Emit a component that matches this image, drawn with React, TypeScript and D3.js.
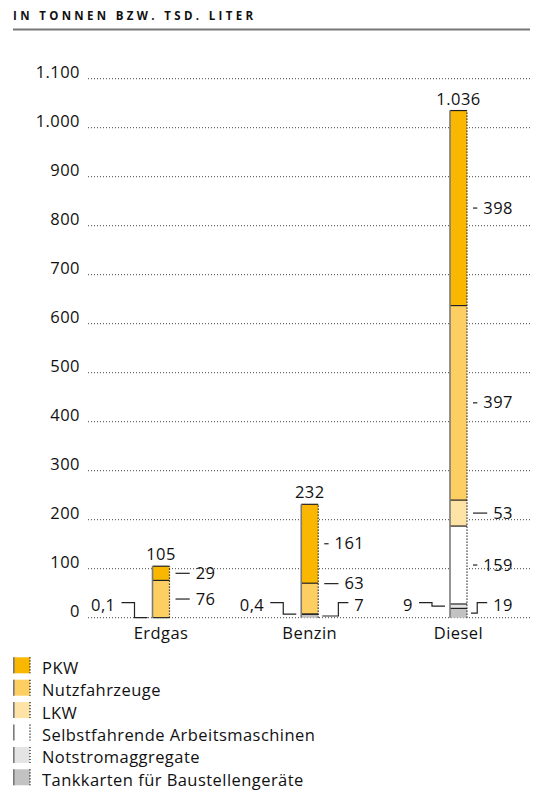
import React from "react";
import * as d3 from "d3";

// Consumption by fuel type, stacked by vehicle / machine group
const categories = ["Erdgas", "Benzin", "Diesel"];
const pkw = [29, 161, 398];
const nutzfahrzeuge = [76, 63, 397];
const lkw = [0, 0, 53];
const selbstfahrende = [0, 0, 159];
const notstrom = [0.1, 0.4, 9];
const tankkarten = [0, 7, 19];
const totals = [105, 232, 1036];
const yTicks = [0, 100, 200, 300, 400, 500, 600, 700, 800, 900, 1000, 1100];

const seriesNames = [
  "PKW",
  "Nutzfahrzeuge",
  "LKW",
  "Selbstfahrende Arbeitsmaschinen",
  "Notstromaggregate",
  "Tankkarten für Baustellengeräte",
];
const seriesColors = ["#f9b700", "#fdcf62", "#fde4a6", "#ffffff", "#e4e4e4", "#c2c2c2"];
// stacking order from the bottom up: Tankkarten, Notstrom, Selbstfahrende, LKW, Nutzfahrzeuge, PKW
const stackOrder = [5, 4, 3, 2, 1, 0];
const seriesValues = [pkw, nutzfahrzeuge, lkw, selbstfahrende, notstrom, tankkarten];

const W = 537;
const H = 794;
const FONT = "'Open Sans', sans-serif";
const FS = 16.5;
const LS = 0.45;

const de = d3.formatLocale({ decimal: ",", thousands: ".", grouping: [3], currency: ["", "€"] });
const fmtInt = de.format(",.0f");
const fmtDec = de.format(",.1f");
const fmt = (v: number) => (v < 1 ? fmtDec(v) : fmtInt(v));

let measureCtx: CanvasRenderingContext2D | null = null;
function textWidth(s: string): number {
  if (!measureCtx) {
    const c = document.createElement("canvas");
    measureCtx = c.getContext("2d");
  }
  if (!measureCtx) return s.length * FS * 0.6;
  measureCtx.font = `${FS}px ${FONT}`;
  return measureCtx.measureText(s).width + LS * s.length;
}

// vertical nudge for a label that would otherwise collide with a callout below it
const labelNudge: Record<string, number> = { "Benzin-1": -15 };

export default function App() {
  const x = d3.scalePoint<string>().domain(categories).range([161, 458.5]);
  const y = d3.scaleLinear().domain([0, 1100]).range([617.7, 78.7]);
  const bw = 17;
  const cx = (c: string) => x(c) ?? 0;

  const stacks = categories.map((c, i) => {
    let base = 0;
    const segs = stackOrder.map((s) => {
      const v = seriesValues[s][i];
      const seg = { series: s, v, y0: base, y1: base + v };
      base += v;
      return seg;
    });
    return { c, i, segs, top: base };
  });

  const txt = { fontSize: FS, letterSpacing: LS, fill: "#111" };

  return (
    <svg
      width={W}
      height={H}
      viewBox={`0 0 ${W} ${H}`}
      style={{ position: "absolute", left: 0, top: 0, background: "#fff" }}
      fontFamily={FONT}
    >
      {/* header */}
      <text x={13} y={19.5} fontSize={11.5} fontWeight="bold" textLength={240} lengthAdjust="spacing" fill="#111">
        IN TONNEN BZW. TSD. LITER
      </text>
      <line x1={13} x2={530} y1={29.5} y2={29.5} stroke="#777" strokeWidth={2} />

      {/* gridlines and y labels */}
      {yTicks.map((t) => (
        <g key={t}>
          <line x1={88} x2={530} y1={y(t)} y2={y(t)} stroke="#444" strokeWidth={1} strokeDasharray="1 2" />
          <text x={80} y={y(t) - 1} textAnchor="end" {...txt}>
            {fmtInt(t)}
          </text>
        </g>
      ))}

      {/* bars */}
      {stacks.map(({ c, i, segs, top }) => {
        const left = cx(c) - bw / 2;
        const right = left + bw;
        const shown = segs.filter((s) => s.v > 0);
        return (
          <g key={c}>
            {shown.map((s) => (
              <rect
                key={s.series}
                x={left}
                y={y(s.y1)}
                width={bw}
                height={y(s.y0) - y(s.y1)}
                fill={seriesColors[s.series]}
              />
            ))}
            {shown.map((s) => (
              <line key={"b" + s.series} x1={left} x2={right} y1={y(s.y1)} y2={y(s.y1)} stroke="#222" strokeWidth={1.2} />
            ))}
            <line x1={left} x2={left} y1={y(0)} y2={y(top)} stroke="#7a7a7a" strokeWidth={1.6} />
            <line x1={right} x2={right} y1={y(0)} y2={y(top)} stroke="#111" strokeWidth={1.2} strokeDasharray="1.2 1.8" />

            {/* total */}
            <text x={cx(c)} y={y(top) - 6} textAnchor="middle" {...txt}>
              {fmtInt(totals[i])}
            </text>

            {/* segment labels */}
            {shown.map((s) => {
              const label = fmt(s.v);
              const segMid = y((s.y0 + s.y1) / 2);
              const mid = segMid + (labelNudge[`${c}-${s.series}`] ?? 0);
              const labelY = y(0) - 15;
              if (s.series === 4) {
                // Notstromaggregate: elbow callout to the left
                return (
                  <g key={"l" + s.series}>
                    <path
                      d={`M${left - 31},${labelY}H${left - 18}V${segMid}H${left - 5}`}
                      fill="none"
                      stroke="#222"
                      strokeWidth={1.2}
                    />
                    <text x={left - 37} y={labelY + 8.5} textAnchor="end" {...txt}>
                      {label}
                    </text>
                  </g>
                );
              }
              const textEnd = right + 46;
              const tStart = textEnd - textWidth(label);
              if (s.series === 5) {
                // Tankkarten: elbow callout to the right
                const lineEnd = tStart - 6;
                return (
                  <g key={"l" + s.series}>
                    <path
                      d={`M${right + 4},${segMid}H${lineEnd - 10}V${labelY}H${lineEnd}`}
                      fill="none"
                      stroke="#222"
                      strokeWidth={1.2}
                    />
                    <text x={textEnd} y={labelY + 8.5} textAnchor="end" {...txt}>
                      {label}
                    </text>
                  </g>
                );
              }
              return (
                <g key={"l" + s.series}>
                  <line x1={right + 6} x2={tStart - 6} y1={mid} y2={mid} stroke="#222" strokeWidth={1.2} />
                  <text x={textEnd} y={mid + 5.5} textAnchor="end" {...txt}>
                    {label}
                  </text>
                </g>
              );
            })}

            {/* category label */}
            <text x={cx(c)} y={639} textAnchor="middle" {...txt}>
              {c}
            </text>
          </g>
        );
      })}

      {/* legend */}
      {seriesNames.map((n, k) => {
        const top = 657.3 + k * 22.4;
        return (
          <g key={n}>
            <rect x={13} y={top} width={17} height={16} fill={seriesColors[k]} />
            <line x1={13.8} x2={13.8} y1={top} y2={top + 16} stroke="#7a7a7a" strokeWidth={1.6} />
            <line x1={30} x2={30} y1={top} y2={top + 16} stroke="#111" strokeWidth={1.2} strokeDasharray="1.2 1.8" />
            <text x={42} y={top + 16.5} {...txt}>
              {n}
            </text>
          </g>
        );
      })}
    </svg>
  );
}
